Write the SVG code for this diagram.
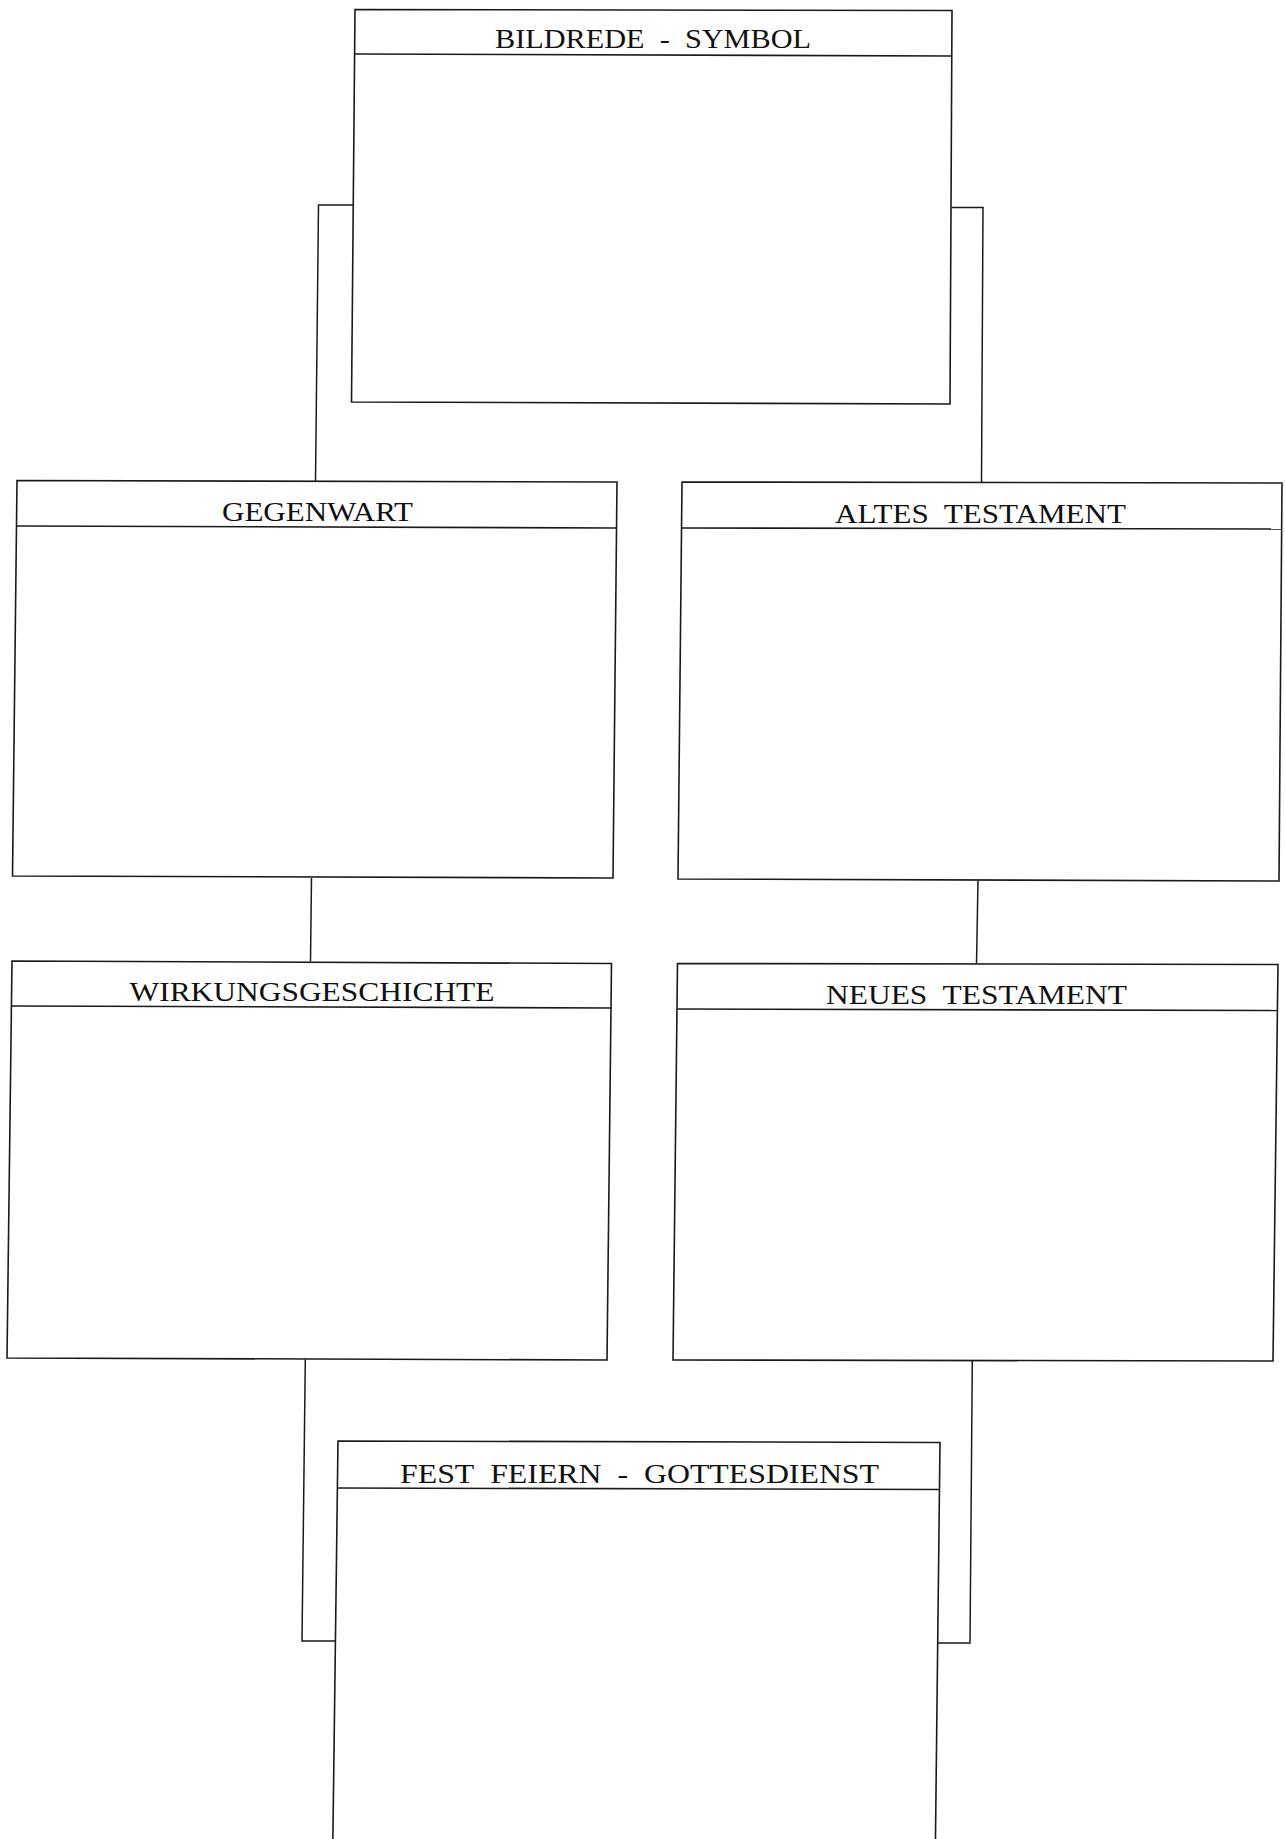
<svg xmlns="http://www.w3.org/2000/svg" width="1285" height="1839" viewBox="0 0 1285 1839">
<style>
.box{fill:none;stroke:#1a1a1a;stroke-width:1.6;stroke-linejoin:miter}
.hdr{fill:none;stroke:#1a1a1a;stroke-width:1.6}
.con{fill:none;stroke:#1a1a1a;stroke-width:1.5}
.lbl{font-family:"Liberation Serif","Times New Roman",serif;font-size:28px;fill:#111;text-anchor:middle}
</style>
<rect x="0" y="0" width="1285" height="1839" fill="#ffffff"/>
<g id="connectors">
<polyline class="con" points="353.5,205 318.5,205 315.5,481"/>
<polyline class="con" points="951.5,207.5 983,207.5 981.5,482.5"/>
<polyline class="con" points="311.5,878 310.5,961.5"/>
<polyline class="con" points="978,880.5 976.5,963.5"/>
<polyline class="con" points="305.3,1359.5 302,1641 335,1641"/>
<polyline class="con" points="972.3,1361 970,1643 938,1643"/>
</g>
<g id="node-bildrede">
<polygon class="box" points="355,9.5 952,10.5 950,404 351.5,402"/>
<line class="hdr" x1="354.5" y1="54" x2="952" y2="56"/>
<text class="lbl" x="653" y="48" textLength="316" lengthAdjust="spacingAndGlyphs">BILDREDE&#160; - &#160;SYMBOL</text>
</g>
<g id="node-gegenwart">
<polygon class="box" points="17,480.5 617,482 613,878 12.5,876"/>
<line class="hdr" x1="17" y1="526" x2="617" y2="528"/>
<text class="lbl" x="317.5" y="521" textLength="191" lengthAdjust="spacingAndGlyphs">GEGENWART</text>
</g>
<g id="node-altes">
<polygon class="box" points="682,482 1282,483 1279,881 678,879"/>
<line class="hdr" x1="682" y1="528" x2="1282" y2="529"/>
<text class="lbl" x="980.5" y="523" textLength="291" lengthAdjust="spacingAndGlyphs">ALTES&#160; TESTAMENT</text>
</g>
<g id="node-wirkung">
<polygon class="box" points="12,961 611.5,963.5 607,1360 7,1358"/>
<line class="hdr" x1="12" y1="1006" x2="611.5" y2="1008"/>
<text class="lbl" x="312" y="1001" textLength="365" lengthAdjust="spacingAndGlyphs">WIRKUNGSGESCHICHTE</text>
</g>
<g id="node-neues">
<polygon class="box" points="677.5,963.5 1278,964.5 1273,1361 673,1360"/>
<line class="hdr" x1="677.5" y1="1009" x2="1278" y2="1010.5"/>
<text class="lbl" x="976.5" y="1004" textLength="301" lengthAdjust="spacingAndGlyphs">NEUES&#160; TESTAMENT</text>
</g>
<g id="node-fest">
<polyline class="box" points="332.8,1845 338,1441 940,1442.5 935.4,1845"/>
<line class="hdr" x1="338" y1="1488" x2="940" y2="1489.5"/>
<text class="lbl" x="639.5" y="1482.5" textLength="479" lengthAdjust="spacingAndGlyphs">FEST&#160; FEIERN&#160; - &#160;GOTTESDIENST</text>
</g>
</svg>
